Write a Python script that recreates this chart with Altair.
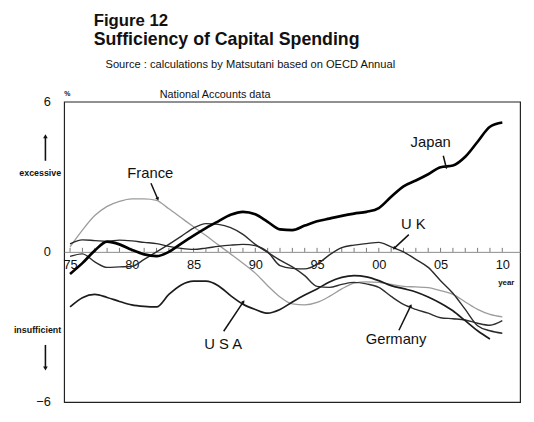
import altair as alt
import pandas as pd

# ---------------- data ----------------
years = list(range(1975, 2011))
japan = [-0.88, -0.45, 0.05, 0.41, 0.30, 0.08, -0.10, -0.17, 0.00, 0.33,
         0.65, 0.95, 1.22, 1.48, 1.60, 1.50, 1.20, 0.90, 0.87, 1.05,
         1.22, 1.33, 1.44, 1.53, 1.60, 1.75, 2.20, 2.62, 2.85, 3.10,
         3.38, 3.45, 3.80, 4.40, 5.00, 5.17]
france = [0.20, 0.87, 1.45, 1.82, 2.02, 2.12, 2.12, 2.06, 1.72, 1.36,
          1.00, 0.65, 0.28, -0.08, -0.45, -0.85, -1.35, -1.80, -2.08, -2.12,
          -2.02, -1.78, -1.48, -1.25, -1.20, -1.22, -1.30, -1.38, -1.40, -1.43,
          -1.55, -1.70, -2.00, -2.30, -2.50, -2.60]
uk = [0.32, 0.48, 0.45, 0.42, 0.47, 0.44, 0.38, 0.33, 0.22, 0.14,
      0.10, 0.15, 0.22, 0.27, 0.30, 0.25, 0.00, -0.55, -0.66, -0.68,
      -0.50, -0.12, 0.17, 0.27, 0.33, 0.38, 0.20, 0.00, -0.30, -0.62,
      -1.15, -1.65, -2.30, -2.95, -3.15, -3.25]
germany = [-0.18, -0.08, -0.40, -0.62, -0.60, -0.58, -0.30, 0.00, 0.30, 0.62,
           0.95, 1.13, 1.10, 0.97, 0.70, 0.30, -0.02, -0.33, -0.60, -0.95,
           -1.38, -1.42, -1.30, -1.22, -1.28, -1.42, -1.78, -2.10, -2.30, -2.45,
           -2.63, -2.67, -2.72, -2.85, -2.93, -2.75]
usa_years = list(range(1975, 2010))
usa = [-2.20, -1.83, -1.70, -1.82, -1.98, -2.12, -2.18, -2.20, -1.70, -1.32,
       -1.17, -1.17, -1.35, -1.75, -2.09, -2.30, -2.45, -2.30, -2.00, -1.72,
       -1.48, -1.20, -1.02, -0.95, -1.00, -1.15, -1.35, -1.47, -1.60, -1.80,
       -2.05, -2.35, -2.75, -3.15, -3.48]

tick_years = [1975, 1980, 1985, 1990, 1995, 2000, 2005, 2010]
y_ticks = [-6, 0, 6]

label_names = ["France", "Japan", "U K", "U S A", "Germany"]
label_x = [1981.5, 2004.2, 2002.8, 1987.4, 2001.4]
label_y = [3.13, 4.37, 1.12, -3.68, -3.48]

arrow_x = [1981.55, 2005.22, 2002.43, 1987.44, 2001.63]
arrow_y = [2.74, 3.84, 0.69, -3.17, -3.13]
arrow_x2 = [1982.1, 2005.46, 2001.24, 1989.04, 2002.59]
arrow_y2 = [2.11, 3.37, 0.14, -1.99, -2.15]
arrow_ang = [156, 166, 227, 34, 26]

series = [
    ("France", years, france, "#9c9c9c", 1.3),
    ("Germany", years, germany, "#2e2e2e", 1.4),
    ("UK", years, uk, "#2a2a2a", 1.4),
    ("USA", usa_years, usa, "#1c1c1c", 1.7),
    ("Japan", years, japan, "#000000", 2.7),
]

FONT = "Liberation Sans"
W, H = 463, 305
xscale = alt.Scale(domain=[1974.52, 2011.44], nice=False, zero=False)
yscale = alt.Scale(domain=[-6, 6], nice=False, zero=False)

xaxis = alt.Axis(
    values=tick_years, labelExpr="substring(toString(datum.value), 2)",
    offset=-152.5, ticks=False, domainColor="#8a8a8a", domainWidth=1,
    labelFontSize=13, labelColor="#111", labelPadding=7, title=None,
    grid=False, labelFont="Liberation Sans Narrow, Liberation Sans")
yaxis = alt.Axis(
    values=y_ticks, ticks=False, domain=False, grid=False, title=None,
    labelPadding=14, labelFontSize=13, labelColor="#111", labelFont=FONT)


def X(f):
    return alt.X(f, scale=xscale, axis=xaxis, title=None)


def Y(f):
    return alt.Y(f, scale=yscale, axis=yaxis, title=None)


# year ticks on the zero line
ticks = alt.Chart(pd.DataFrame({"year": years})).mark_rule(
    color="#555", strokeWidth=0.8
).encode(
    x=X("year:Q"),
    y=alt.datum(0),
    y2=alt.datum(0.16),
)

layers = [ticks]
for name, yrs, vals, col, sw in series:
    d = pd.DataFrame({"year": yrs, "value": vals})
    layers.append(
        alt.Chart(d).mark_line(interpolate="monotone", color=col, strokeWidth=sw).encode(
            x=X("year:Q"), y=Y("value:Q"),
        )
    )

labels_df = pd.DataFrame({"name": label_names, "x": label_x, "y": label_y})
layers.append(
    alt.Chart(labels_df).mark_text(font=FONT, fontSize=15, color="#111", baseline="middle").encode(
        x=X("x:Q"), y=Y("y:Q"), text="name:N",
    )
)

arrows_df = pd.DataFrame({"x": arrow_x, "y": arrow_y, "x2": arrow_x2, "y2": arrow_y2, "ang": arrow_ang})
layers.append(
    alt.Chart(arrows_df).mark_rule(color="#111", strokeWidth=1.5).encode(
        x=X("x:Q"), y=Y("y:Q"), x2="x2:Q", y2="y2:Q",
    )
)
layers.append(
    alt.Chart(arrows_df).mark_point(shape="triangle-up", filled=True, size=16, color="#111", opacity=1).encode(
        x=X("x2:Q"), y=Y("y2:Q"),
        angle=alt.Angle("ang:Q", scale=None),
    )
)


def txt(t, x, y, size, weight="normal", align="left", font=FONT):
    return alt.Chart(pd.DataFrame({"t": [t]})).mark_text(
        font=font, fontSize=size, fontWeight=weight, align=align,
        baseline="alphabetic", color="#111"
    ).encode(text="t:N", x=alt.value(x), y=alt.value(y))


layers += [
    txt("Figure 12", 30, -76.5, 17, "bold"),
    txt("Sufficiency of Capital Spending", 30, -57.5, 18, "bold"),
    txt("Source : calculations by Matsutani based on OECD Annual", 42, -34, 11.3),
    txt("National Accounts data", 97, -4, 11),
    txt("%", 0, -6, 7, "bold"),
    txt("excessive", -3, 75, 9, "bold", "right"),
    txt("insufficient", -3, 235, 9, "bold", "right"),
    txt("year", 449, 186, 8, "bold", "center"),
]

# side arrows (excessive / insufficient)
side = pd.DataFrame({"k": [0]})
layers += [
    alt.Chart(side).mark_rule(color="#111", strokeWidth=1.6).encode(
        x=alt.value(-19), y=alt.value(60), y2=alt.value(36)),
    alt.Chart(side).mark_point(shape="triangle-up", filled=True, size=22, color="#111", opacity=1).encode(
        x=alt.value(-19), y=alt.value(35)),
    alt.Chart(side).mark_rule(color="#111", strokeWidth=1.6).encode(
        x=alt.value(-19), y=alt.value(247), y2=alt.value(270)),
    alt.Chart(side).mark_point(shape="triangle-down", filled=True, size=22, color="#111", opacity=1).encode(
        x=alt.value(-19), y=alt.value(271)),
]

chart = alt.layer(*layers).properties(
    width=W, height=H,
    padding={"left": 57, "top": 92, "right": 6, "bottom": 10},
    autosize=alt.AutoSizeParams(type="none"),
    background="white",
).configure_view(stroke="#222", strokeWidth=1.2)

chart.save("out.html", embed_options={"renderer": "svg", "actions": False})
